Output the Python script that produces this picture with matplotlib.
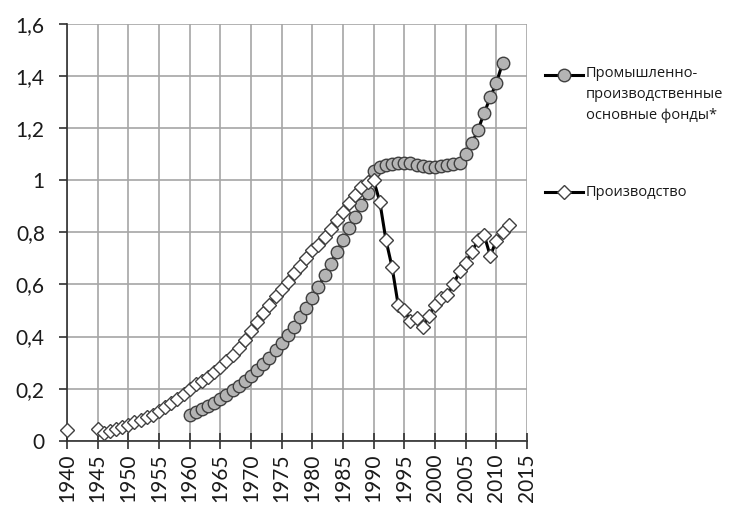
import matplotlib
matplotlib.use('Agg')
import matplotlib.pyplot as plt
from matplotlib.lines import Line2D
from matplotlib.ticker import FuncFormatter, MultipleLocator
import numpy as np

# Промышленно-производственные основные фонды*, 1960-2011
fondy_years = np.arange(1960, 2012)
fondy_values = [
    0.099, 0.111, 0.120, 0.133, 0.146, 0.159, 0.175, 0.195, 0.211, 0.230,
    0.250, 0.271, 0.294, 0.319, 0.348, 0.376, 0.406, 0.438, 0.474, 0.508,
    0.547, 0.590, 0.635, 0.680, 0.725, 0.770, 0.815, 0.860, 0.905, 0.950,
    1.035, 1.050, 1.058, 1.063, 1.066, 1.067, 1.065, 1.060, 1.055, 1.050,
    1.050, 1.054, 1.058, 1.062, 1.068, 1.100, 1.142, 1.193, 1.257, 1.318,
    1.374, 1.449,
]

# Производство, 1940-2012 (1941-1944 нет данных)
prod_years = np.arange(1940, 2013)
prod_values = [
    0.040, None, None, None, None, 0.045, 0.030, 0.037, 0.045, 0.054,
    0.062, 0.070, 0.080, 0.090, 0.100, 0.115, 0.130, 0.145, 0.160, 0.180,
    0.200, 0.218, 0.230, 0.246, 0.265, 0.284, 0.307, 0.330, 0.356, 0.388,
    0.420, 0.455, 0.489, 0.521, 0.556, 0.581, 0.610, 0.645, 0.672, 0.700,
    0.732, 0.751, 0.783, 0.811, 0.847, 0.879, 0.911, 0.943, 0.975, 0.992,
    1.000, 0.917, 0.770, 0.666, 0.520, 0.500, 0.460, 0.470, 0.437, 0.480,
    0.520, 0.547, 0.560, 0.600, 0.650, 0.683, 0.725, 0.770, 0.790, 0.710,
    0.768, 0.802, 0.828,
]

label_fondy = 'Промышленно-\nпроизводственные\nосновные фонды*'
label_prod = 'Производство'

prod_arr = np.array([np.nan if v is None else v for v in prod_values])

fig = plt.figure(figsize=(7.32, 5.17), dpi=100)
ax = fig.add_axes([0.0915, 0.1476, 0.6285, 0.806])

circle_style = dict(color='black', lw=2.2, marker='o', markersize=9.0,
                    markerfacecolor='#b4b4b4', markeredgecolor='#404040',
                    markeredgewidth=1.0)
diamond_style = dict(color='black', lw=2.2, marker='D', markersize=7.0,
                     markerfacecolor='white', markeredgecolor='#404040',
                     markeredgewidth=1.0)

ax.plot(fondy_years, fondy_values, zorder=3, clip_on=False, **circle_style)
ax.plot(prod_years, prod_arr, zorder=4, clip_on=False, **diamond_style)

ax.set_xlim(1940, 2015)
ax.set_ylim(0, 1.6)
ax.xaxis.set_major_locator(MultipleLocator(5))
ax.yaxis.set_major_locator(MultipleLocator(0.2))
ax.yaxis.set_major_formatter(FuncFormatter(lambda v, p: f'{v:.1f}'.rstrip('0').rstrip('.').replace('.', ',')))
ax.grid(True, color='#a6a6a6', lw=1.2)
ax.set_axisbelow(True)

for s in ['top', 'right']:
    ax.spines[s].set_visible(False)
for s in ['left', 'bottom']:
    ax.spines[s].set_color('#303030')
    ax.spines[s].set_linewidth(1.2)
    ax.spines[s].set_zorder(2.5)

ax.tick_params(axis='y', direction='out', length=6, width=1.2, color='#303030',
               labelsize=15, labelcolor='#1a1a1a', pad=10)
ax.tick_params(axis='x', direction='inout', length=12, width=1.2, color='#303030',
               labelsize=15, labelcolor='#1a1a1a', labelrotation=90, pad=3)
for lab in ax.get_xticklabels() + ax.get_yticklabels():
    lab.set_family(['Lato', 'DejaVu Sans'])

# легенда справа
W, H = 732, 517
def fx(px):
    return px / W
def fy(py):
    return 1 - py / H

line_only = dict(color='black', lw=2.2)
fig.add_artist(Line2D([fx(545), fx(583)], [fy(75), fy(75)], **line_only))
fig.add_artist(Line2D([fx(545), fx(583)], [fy(192), fy(192)], **line_only))
fig.add_artist(Line2D([fx(564)], [fy(75)], **circle_style))
fig.add_artist(Line2D([fx(564)], [fy(192)], **diamond_style))
fig.text(fx(586), fy(66), label_fondy, ha='left', va='top', fontsize=10.5,
         family=['Open Sans', 'DejaVu Sans'], color='#1a1a1a', linespacing=1.55)
fig.text(fx(586), fy(192), label_prod, ha='left', va='center', fontsize=10.5,
         family=['Open Sans', 'DejaVu Sans'], color='#1a1a1a')

fig.savefig('out.png', dpi=100)
